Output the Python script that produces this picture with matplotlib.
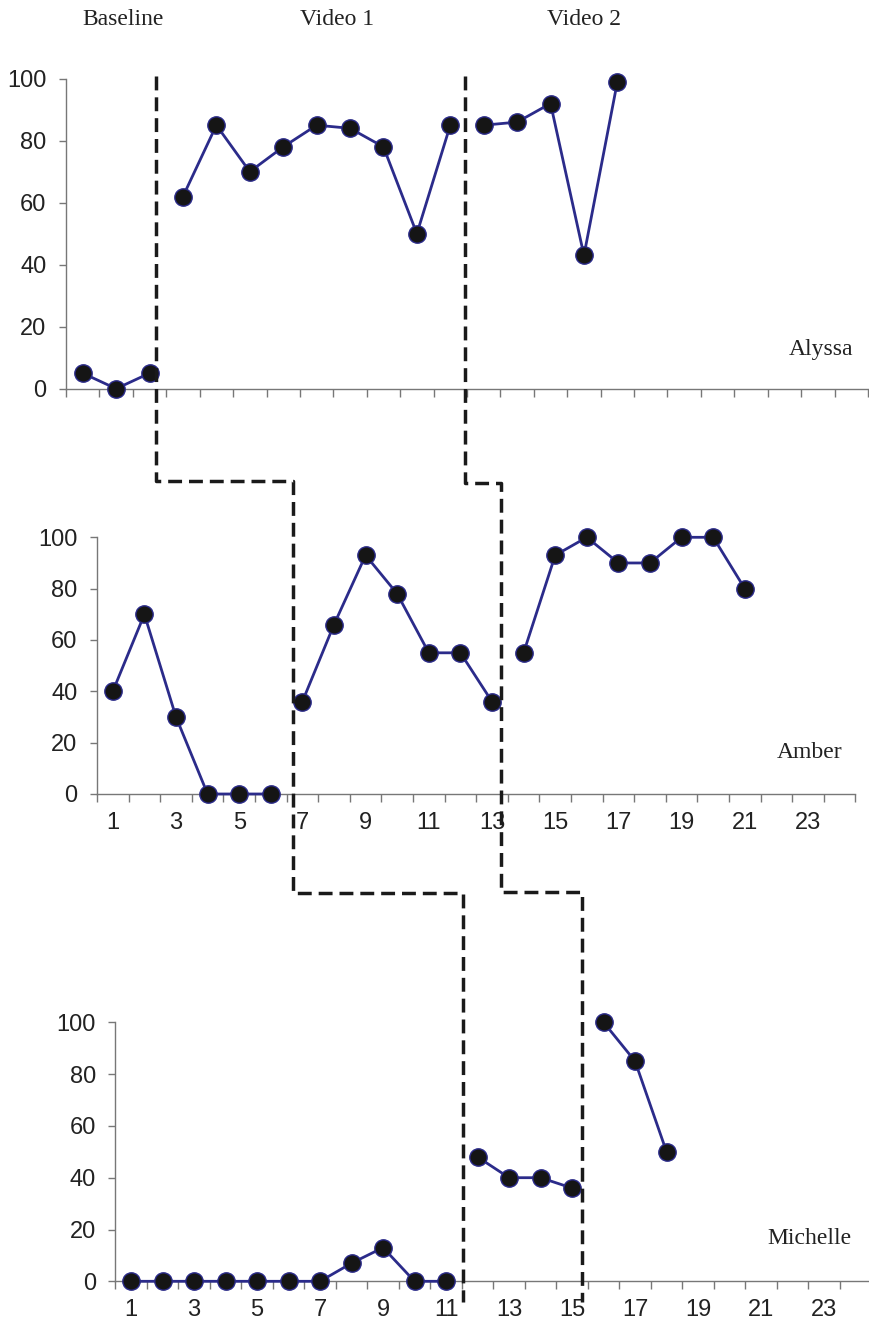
import matplotlib
matplotlib.use("Agg")
import matplotlib.pyplot as plt
import numpy as np
from matplotlib.lines import Line2D

# session values, split by phase
alyssa_x = [[1, 2, 3], [4, 5, 6, 7, 8, 9, 10, 11, 12], [13, 14, 15, 16, 17]]
alyssa_y = [[5, 0, 5], [62, 85, 70, 78, 85, 84, 78, 50, 85], [85, 86, 92, 43, 99]]

amber_x = [[1, 2, 3, 4, 5, 6], [7, 8, 9, 10, 11, 12, 13], [14, 15, 16, 17, 18, 19, 20, 21]]
amber_y = [[40, 70, 30, 0, 0, 0], [36, 66, 93, 78, 55, 55, 36], [55, 93, 100, 90, 90, 100, 100, 80]]

michelle_x = [[1, 2, 3, 4, 5, 6, 7, 8, 9, 10, 11], [12, 13, 14, 15], [16, 17, 18]]
michelle_y = [[0, 0, 0, 0, 0, 0, 0, 7, 13, 0, 0], [48, 40, 40, 36], [100, 85, 50]]

names = ["Alyssa", "Amber", "Michelle"]
phase_labels = ["Baseline", "Video 1", "Video 2"]
phase_label_x = [2.2, 8.6, 16.0]
yticks = [0, 20, 40, 60, 80, 100]
xtick_labels = [1, 3, 5, 7, 9, 11, 13, 15, 17, 19, 21, 23]

# phase change positions (session units) in each panel
change1 = [3.18, 6.69, 11.53]
change2 = [12.43, 13.27, 15.3]

line_col = "#2b2b8a"
face_col = "#151515"
axis_col = "#777777"
sans = ["Liberation Sans", "DejaVu Sans"]
serif = ["Liberation Serif", "DejaVu Serif"]

W, H = 869, 1323
fig = plt.figure(figsize=(W / 100, H / 100), dpi=100)

# axes rectangles in pixels: left, top(y=100), bottom(y=0), width
rects = [(66, 78.7, 388.7, 802), (97, 537.3, 794, 758.4), (115.3, 1022.3, 1281.3, 756)]
axes = []
for (l, t, b, w) in rects:
    ax = fig.add_axes([l / W, 1 - b / H, w / W, (b - t) / H])
    axes.append(ax)

datasets = [(alyssa_x, alyssa_y), (amber_x, amber_y), (michelle_x, michelle_y)]
name_pos = [(23.1, 12.8), (23.06, 16), (22.55, 16.7)]

for i, ax in enumerate(axes):
    xs, ys = datasets[i]
    for px, py in zip(xs, ys):
        ax.plot(px, py, color=line_col, lw=2.0, marker="o", ms=12.5,
                mfc=face_col, mec=line_col, mew=1.0, clip_on=False, zorder=3)
    ax.set_xlim(0.5, 24.5)
    ax.set_ylim(0, 100)
    for s in ["top", "right"]:
        ax.spines[s].set_visible(False)
    for s in ["left", "bottom"]:
        ax.spines[s].set_color(axis_col)
        ax.spines[s].set_linewidth(1.0)
    ax.set_yticks(yticks)
    ax.set_yticklabels([str(v) for v in yticks], fontfamily=sans, fontsize=17, color="#222222")
    ax.tick_params(axis="y", length=5, width=1, color=axis_col, pad=9)
    ax.set_xticks(np.arange(0.5, 25, 1), minor=True)
    ax.tick_params(axis="x", which="minor", length=5.5, width=1, color=axis_col, direction="out")
    if i == 0:
        ax.set_xticks([])
    else:
        ax.set_xticks(xtick_labels)
        ax.set_xticklabels([str(v) for v in xtick_labels], fontfamily=sans, fontsize=17, color="#222222")
        ax.tick_params(axis="x", which="major", length=0, pad=13)
    nx, ny = name_pos[i]
    ax.text(nx, ny, names[i], fontfamily=serif, fontsize=17, ha="center", va="center", color="#222222")

for lab, lx in zip(phase_labels, phase_label_x):
    axes[0].text(lx, 119, lab, fontfamily=serif, fontsize=17, ha="center", va="center",
                 color="#222222", clip_on=False)


def fig_pt(ax, x, y):
    d = ax.transData.transform((x, y))
    return fig.transFigure.inverted().transform(d)


# vertical positions of the horizontal steps, in next panel's units
step_y = [(122, 150), (121, 150.3)]


def phase_line(xs, steps):
    a0, a1, a2 = axes
    pts = []
    pts.append(fig_pt(a0, xs[0], 101))
    pts.append([fig_pt(a0, xs[0], 0)[0], fig_pt(a1, xs[1], steps[0])[1]])
    pts.append(fig_pt(a1, xs[1], steps[0]))
    p = fig_pt(a2, xs[2], steps[1])
    q = fig_pt(a1, xs[1], 0)
    pts.append([q[0], p[1]])
    pts.append(p)
    pts.append(fig_pt(a2, xs[2], -8))
    pts = np.array(pts, dtype=float)
    fig.add_artist(Line2D(pts[:, 0], pts[:, 1], transform=fig.transFigure, color="#1a1a1a",
                          lw=2.5, linestyle=(0, (4.0, 2.0)), zorder=5))


phase_line(change1, step_y[0])
phase_line(change2, step_y[1])

fig.savefig("out.png", dpi=100)
